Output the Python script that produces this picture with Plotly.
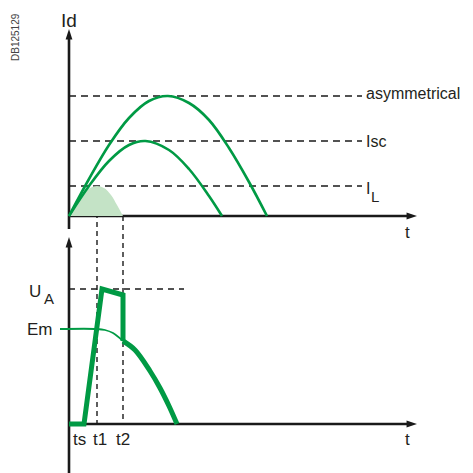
import plotly.graph_objects as go

# ---------------- data (time units / current & voltage units) ----------------
# characteristic times
TS, T1, T2 = 1.5, 2.8, 5.4
# current levels (top diagram)
I_L, I_SC, I_ASYM = 3.0, 7.5, 12.0
# voltage levels (bottom diagram)
U_A, E_M = 13.5, 9.5

# asymmetrical prospective current
t_asym = [0, 2, 4, 6, 8, 9.9, 12, 14, 16, 18, 19.8]
i_asym = [0, 3.7, 7.1, 9.8, 11.5, 12.0, 11.3, 9.6, 6.8, 3.4, 0]
# symmetrical short-circuit current
t_isc = [0, 2, 4, 6, 7.65, 10, 12, 14, 15.3]
i_isc = [0, 3.0, 5.5, 7.1, 7.5, 6.6, 4.7, 2.0, 0]
# limited current (shaded)
t_il = [0, 0.7, 1.4, 2.1, 2.8, 3.5, 4.2, 4.8, 5.4]
i_il = [0, 1.2, 2.2, 2.8, 3.0, 2.8, 2.1, 1.1, 0]

# source voltage Em (thin part, then continues as thick tail)
t_em = [-0.9, 2.8, 3.6, 4.4, 5.4]
u_em = [9.5, 9.5, 9.4, 9.1, 8.3]
# arc voltage (thick)
t_arc = [0, TS, 3.3, T2, T2]
u_arc = [0, 0, 13.5, 12.9, 8.3]
t_tail = [5.4, 6.6, 8.1, 9.1, 10.0, 10.8]
u_tail = [8.3, 7.4, 5.3, 3.6, 1.8, 0]

# axes extents
T_END = 34.8
Y_TOP = 18.7
LEVEL_END = 29.3
UA_END = 11.5

# ---------------- layout constants ----------------
BOTTOM_BASE = -20.8   # vertical position of the voltage diagram origin
GREEN = "#009a44"
BLACK = "#1a1a1a"
FONT = "Liberation Sans, Arial, sans-serif"

def vb(vals):
    return [v + BOTTOM_BASE for v in vals]

fig = go.Figure()

# shaded limited current
fig.add_trace(go.Scatter(x=t_il, y=i_il, mode="lines", line=dict(width=0, shape="spline"),
                         fill="tozeroy", fillcolor="#c4e3c6", hoverinfo="skip"))
fig.add_trace(go.Scatter(x=t_asym, y=i_asym, mode="lines",
                         line=dict(color=GREEN, width=2.6, shape="spline"), hoverinfo="skip"))
fig.add_trace(go.Scatter(x=t_isc, y=i_isc, mode="lines",
                         line=dict(color=GREEN, width=2.6, shape="spline"), hoverinfo="skip"))
# Em thin
fig.add_trace(go.Scatter(x=t_em, y=vb(u_em), mode="lines",
                         line=dict(color=GREEN, width=1.8, shape="spline"), hoverinfo="skip"))
# arc voltage thick
fig.add_trace(go.Scatter(x=t_arc, y=vb(u_arc), mode="lines",
                         line=dict(color=GREEN, width=5), hoverinfo="skip"))
fig.add_trace(go.Scatter(x=t_tail, y=vb(u_tail), mode="lines",
                         line=dict(color=GREEN, width=5, shape="spline"), hoverinfo="skip"))

# arrowheads of the four axes
fig.add_trace(go.Scatter(
    x=[0, T_END, 0, T_END],
    y=[Y_TOP, 0, BOTTOM_BASE + Y_TOP, BOTTOM_BASE],
    mode="markers",
    marker=dict(symbol="arrow", size=11, angle=[0, 90, 0, 90], color=BLACK,
                line=dict(width=0)),
    hoverinfo="skip"))

shapes = []
# axes lines
shapes.append(dict(type="line", x0=0, x1=0, y0=-1.3, y1=Y_TOP - 1, line=dict(color=BLACK, width=2.6)))
shapes.append(dict(type="line", x0=0, x1=T_END - 1, y0=0, y1=0, line=dict(color=BLACK, width=2.6)))
shapes.append(dict(type="line", x0=0, x1=0, y0=BOTTOM_BASE - 6, y1=BOTTOM_BASE + Y_TOP - 1,
                   line=dict(color=BLACK, width=2.6)))
shapes.append(dict(type="line", x0=0, x1=T_END - 1, y0=BOTTOM_BASE, y1=BOTTOM_BASE,
                   line=dict(color=BLACK, width=2.6)))
# dashed levels
for lv in (I_ASYM, I_SC, I_L):
    shapes.append(dict(type="line", x0=0, x1=LEVEL_END, y0=lv, y1=lv,
                       line=dict(color=BLACK, width=1.4, dash="7px,5px")))
shapes.append(dict(type="line", x0=0, x1=UA_END, y0=BOTTOM_BASE + U_A, y1=BOTTOM_BASE + U_A,
                   line=dict(color=BLACK, width=1.4, dash="6px,5px")))
# dashed verticals
shapes.append(dict(type="line", x0=T1, x1=T1, y0=I_L, y1=BOTTOM_BASE,
                   line=dict(color=BLACK, width=1.4, dash="5px,4px")))
shapes.append(dict(type="line", x0=T2, x1=T2, y0=0, y1=BOTTOM_BASE,
                   line=dict(color=BLACK, width=1.4, dash="5px,4px")))
for s in shapes:
    s.update(xref="x", yref="y", layer="below")

ann = []

def label(txt, x, y, xa="center", ya="middle", size=16, color="#231f20", angle=0):
    ann.append(dict(x=x, y=y, xref="x", yref="y", text=txt, showarrow=False,
                    xanchor=xa, yanchor=ya, textangle=angle, borderpad=0,
                    font=dict(family=FONT, size=size, color=color)))

label("Id", 0, 19.6, size=19)
label("t", 33.8, -1.6, size=17)
label("t", 33.8, BOTTOM_BASE - 1.5, size=17)
label("asymmetrical", LEVEL_END + 0.3, I_ASYM + 0.3, xa="left", size=16)
label("Isc", LEVEL_END + 0.3, I_SC, xa="left", size=16)
# I with subscript L
label("I", LEVEL_END + 0.3, I_L - 0.25, xa="left", size=16)
label("L", LEVEL_END + 0.8, I_L - 1.0, xa="left", size=15)
# U with subscript A
label("U", -2.7, BOTTOM_BASE + U_A - 0.2, xa="right", size=17)
label("A", -2.65, BOTTOM_BASE + U_A - 0.95, xa="left", size=15)
label("Em", -1.5, BOTTOM_BASE + E_M, xa="right", size=17)
label("ts", 1.0, BOTTOM_BASE - 1.5, size=17)
label("t1", 3.1, BOTTOM_BASE - 1.5, size=17)
label("t2", 5.4, BOTTOM_BASE - 1.5, size=17)
label("DB125129", -5.4, 17.9, size=10, color="#444444", angle=-90)

fig.update_layout(
    width=473, height=473, autosize=False,
    margin=dict(l=0, r=0, t=0, b=0, pad=0),
    paper_bgcolor="white", plot_bgcolor="white",
    showlegend=False,
    xaxis=dict(range=[-6.9, 40.4], visible=False, fixedrange=True),
    yaxis=dict(range=[-25.7, 21.6], visible=False, fixedrange=True),
    shapes=shapes, annotations=ann,
)

fig.write_html("out.html", config={"displayModeBar": False, "staticPlot": True},
               post_script="document.body.style.margin='0';document.body.style.overflow='hidden';")
